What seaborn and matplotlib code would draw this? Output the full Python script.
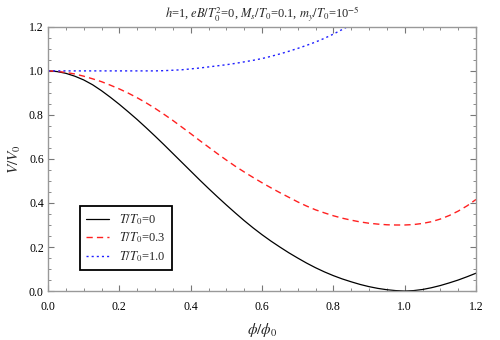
import matplotlib
matplotlib.use("Agg")
import matplotlib.pyplot as plt
from matplotlib.ticker import MultipleLocator
import pandas as pd
import seaborn as sns

# values (phi/phi0 in steps of 0.025)
phi = [0.0, 0.025, 0.05, 0.075, 0.1, 0.125, 0.15, 0.175, 0.2, 0.225, 0.25,
       0.275, 0.3, 0.325, 0.35, 0.375, 0.4, 0.425, 0.45, 0.475, 0.5, 0.525,
       0.55, 0.575, 0.6, 0.625, 0.65, 0.675, 0.7, 0.725, 0.75, 0.775, 0.8,
       0.825, 0.85, 0.875, 0.9, 0.925, 0.95, 0.975, 1.0, 1.025, 1.05, 1.075,
       1.1, 1.125, 1.15, 1.175, 1.2]
v_t0 = [1.0, 0.997, 0.989, 0.976, 0.959, 0.937, 0.910, 0.880, 0.848, 0.814,
        0.779, 0.742, 0.704, 0.665, 0.625, 0.585, 0.545, 0.505, 0.466, 0.428,
        0.391, 0.355, 0.320, 0.287, 0.256, 0.227, 0.200, 0.174, 0.150, 0.127,
        0.106, 0.087, 0.070, 0.055, 0.042, 0.030, 0.020, 0.012, 0.006, 0.002,
        0.0, 0.002, 0.007, 0.015, 0.025, 0.037, 0.050, 0.065, 0.081]
v_t03 = [1.0, 0.998, 0.993, 0.986, 0.976, 0.964, 0.951, 0.935, 0.918, 0.899,
         0.878, 0.855, 0.830, 0.803, 0.775, 0.745, 0.715, 0.684, 0.654, 0.624,
         0.595, 0.567, 0.541, 0.516, 0.492, 0.469, 0.447, 0.426, 0.405, 0.386,
         0.369, 0.355, 0.342, 0.331, 0.322, 0.314, 0.308, 0.304, 0.301, 0.300,
         0.300, 0.302, 0.307, 0.315, 0.327, 0.343, 0.363, 0.387, 0.416]
phi_t1 = [0.0, 0.05, 0.1, 0.15, 0.2, 0.25, 0.3, 0.325, 0.35, 0.375, 0.4, 0.425,
          0.45, 0.475, 0.5, 0.525, 0.55, 0.575, 0.6, 0.625, 0.65, 0.675, 0.7,
          0.725, 0.75, 0.775, 0.8, 0.825, 0.85]
v_t1 = [1.0, 1.0, 1.0, 1.0, 1.0, 1.0, 1.0, 1.001, 1.003, 1.005, 1.009, 1.013,
        1.018, 1.023, 1.028, 1.034, 1.041, 1.048, 1.056, 1.066, 1.077, 1.089,
        1.102, 1.116, 1.131, 1.148, 1.167, 1.188, 1.21]

labels = [r"$T/T_0$=0", r"$T/T_0$=0.3", r"$T/T_0$=1.0"]

sns.set_theme(style="ticks")
plt.rcParams["font.family"] = ["Liberation Serif", "DejaVu Serif"]
plt.rcParams["mathtext.fontset"] = "stix"

fig = plt.figure(figsize=(5, 3.4), dpi=100)
ax = fig.add_axes([0.096, 0.144, 0.856, 0.777])

df0 = pd.DataFrame({"phi": phi, "V": v_t0})
df1 = pd.DataFrame({"phi": phi, "V": v_t03})
df2 = pd.DataFrame({"phi": phi_t1, "V": v_t1})

sns.lineplot(data=df0, x="phi", y="V", ax=ax, color="black", lw=0.9,
             label=labels[0], estimator=None)
sns.lineplot(data=df1, x="phi", y="V", ax=ax, color="#ff2020", lw=1.0,
             label=labels[1], estimator=None)
sns.lineplot(data=df2, x="phi", y="V", ax=ax, color="#2020ff", lw=1.0,
             label=labels[2], estimator=None)
ax.lines[1].set_dashes([4.5, 3])
ax.lines[2].set_dashes([1.5, 2.2])

ax.set_xlim(0, 1.2)
ax.set_ylim(0, 1.2)
ax.xaxis.set_major_locator(MultipleLocator(0.2))
ax.xaxis.set_minor_locator(MultipleLocator(0.05))
ax.yaxis.set_major_locator(MultipleLocator(0.2))
ax.yaxis.set_minor_locator(MultipleLocator(0.05))
ax.xaxis.set_major_formatter(lambda v, p: f"{v:.1f}")
ax.yaxis.set_major_formatter(lambda v, p: f"{v:.1f}")

for s in ax.spines.values():
    s.set_color("#999999")
    s.set_linewidth(1.0)
ax.tick_params(which="both", direction="in", top=True, right=True,
               color="#777777", labelsize=8.5, labelcolor="black")
ax.tick_params(which="major", length=4, width=0.8)
ax.tick_params(which="minor", length=2.2, width=0.6)
ax.tick_params(axis="x", which="major", pad=7)
ax.tick_params(axis="y", which="major", pad=3)

ax.set_xlabel(r"$\phi/\phi_0$", fontsize=11, labelpad=6)
ax.set_ylabel(r"$V/V_0$", fontsize=11, labelpad=4)
ax.set_title(r"$h$=1, $eB/T_0^2$=0, $M_s/T_0$=0.1, $m_y/T_0$=10$^{-5}$",
             fontsize=9, pad=6)

leg = ax.legend(loc="lower left", bbox_to_anchor=(0.075, 0.079), fontsize=9,
                frameon=True, fancybox=False, handlelength=1.8,
                borderpad=0.5, borderaxespad=0, labelspacing=0.3,
                handletextpad=0.8)
leg.get_frame().set_edgecolor("black")
leg.get_frame().set_linewidth(1.3)
leg.get_frame().set_alpha(1)

fig.savefig("out.png", dpi=100)
